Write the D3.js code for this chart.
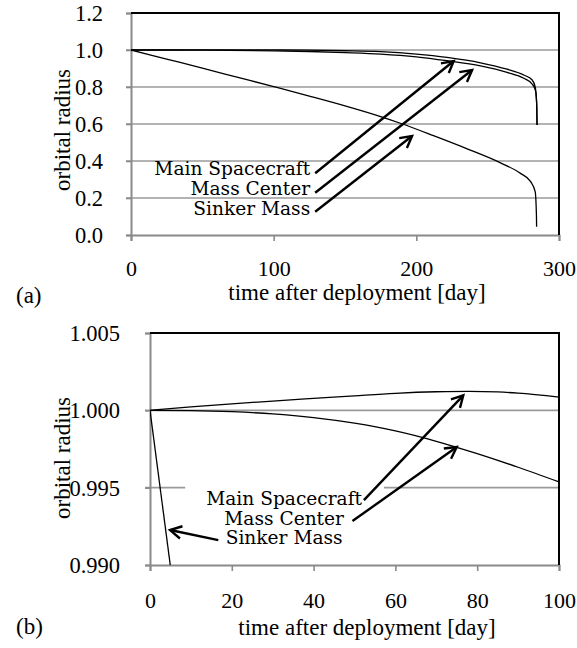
<!DOCTYPE html>
<html><head><meta charset="utf-8">
<script src="https://cdn.jsdelivr.net/npm/d3@7/dist/d3.min.js"></script>
<style>body{margin:0;background:#fff}svg{display:block}
.ser{font-family:"Liberation Serif","Times New Roman",serif}
.leg{font-family:"DejaVu Serif",serif}</style>
</head><body>
<svg id="c" width="577" height="648"></svg>
<script>
// ---------- Data: panel (a) ----------
const seriesNames = ["Main Spacecraft", "Mass Center", "Sinker Mass"];
const aXTicks = [0, 100, 200, 300];
const aYTicks = [0.0, 0.2, 0.4, 0.6, 0.8, 1.0, 1.2];
const aMain = [[0,1.0],[50,1.0009],[78,1.0012],[100,1.0009],[125,0.999],[150,0.996],[175,0.991],[200,0.978],[221.5,0.960],[245,0.931],[263.6,0.896],[275.3,0.865],[281.2,0.838],[283.3,0.80],[284.3,0.72],[284.6,0.595]];
const aCenter = [[0,1.0],[50,0.9992],[100,0.9954],[125,0.992],[150,0.986],[175,0.978],[200,0.963],[221.5,0.942],[245,0.914],[263.6,0.879],[275.3,0.847],[281.2,0.816],[283.5,0.78],[284.4,0.70],[284.6,0.595]];
const aSinker = [[0,1.0],[25,0.951],[50,0.902],[75,0.852],[100,0.802],[125,0.751],[150,0.698],[175,0.640],[188.8,0.604],[212,0.537],[235.6,0.466],[259,0.390],[273,0.333],[280,0.290],[283.3,0.234],[284.2,0.10],[284.3,0.045]];
// legend labels (a): [day, radius] of text anchor (right aligned)
const aLabelPos = [[125.6,0.324],[125.6,0.216],[125.6,0.108]];
// arrows (a): [startDay, startR, tipDay, tipR]
const aArrows = [[129.1,0.3335,226.2,0.9405],[129.1,0.2286,239.1,0.8919],[129.1,0.1259,197.0,0.5351]];

// ---------- Data: panel (b) ----------
const bXTicks = [0, 20, 40, 60, 80, 100];
const bYTicks = [0.990, 0.995, 1.000, 1.005];
const bMain = [[0,1.0],[10,1.00022],[20,1.00042],[30,1.00060],[40,1.00077],[50,1.00094],[60,1.00110],[70,1.00120],[78,1.00123],[85,1.00119],[90,1.00111],[100,1.00086]];
const bCenter = [[0,1.0],[10,0.99998],[20,0.99991],[30,0.99977],[40,0.99953],[50,0.99917],[60,0.99867],[70,0.99800],[80,0.99720],[90,0.99632],[100,0.99537]];
const bSinker = [[0,1.0],[5,0.9899]];
const bLabelPos = [[32.8,0.99387],[32.8,0.99258],[32.8,0.99135]];
const bArrows = [[52.3,0.99419,76.6,1.000968],[49.5,0.99284,75.0,0.99763],[16.7,0.99161,4.9,0.99226]];
const bBox = [8.6, 57.2, 0.99512, 0.99097];

const svg = d3.select("#c");

function arrow(g, x1, y1, x2, y2) {
  const ang = Math.atan2(y2 - y1, x2 - x1), L = 13, a = 0.5;
  g.append("line").attr("x1", x1).attr("y1", y1).attr("x2", x2).attr("y2", y2)
    .attr("stroke", "#000").attr("stroke-width", 2.4);
  const p1 = [x2 - L * Math.cos(ang - a), y2 - L * Math.sin(ang - a)];
  const p2 = [x2 - L * Math.cos(ang + a), y2 - L * Math.sin(ang + a)];
  g.append("path").attr("d", `M${p1}L${x2},${y2}L${p2}`).attr("fill", "none")
    .attr("stroke", "#000").attr("stroke-width", 2.4).attr("stroke-linejoin", "miter");
}

function panel(o) {
  const g = svg.append("g");
  const x = d3.scaleLinear().domain(o.xd).range([o.l, o.r]);
  const y = d3.scaleLinear().domain(o.yd).range([o.b, o.t]);
  const id = "clip" + o.name;
  g.append("clipPath").attr("id", id).append("rect")
    .attr("x", o.l).attr("y", o.t).attr("width", o.r - o.l + 4).attr("height", o.b - o.t);
  // gridlines
  g.selectAll(".grid").data(o.yTicks.filter(v => v !== o.yd[0] && v !== o.yd[1]))
    .enter().append("line").attr("x1", o.l - 5).attr("x2", o.r)
    .attr("y1", d => y(d)).attr("y2", d => y(d))
    .attr("stroke", "#9a9a9a").attr("stroke-width", 1.6);
  // y axis (left, gray)
  const ya = d3.axisLeft(y).tickValues(o.yTicks).tickSize(5).tickFormat(d3.format(o.yFmt));
  const yg = g.append("g").attr("transform", `translate(${o.l},0)`).call(ya)
    .attr("font-family", null).attr("font-size", null).attr("class", "ser");
  yg.select(".domain").attr("stroke", "#8a8a8a").attr("stroke-width", 2);
  yg.selectAll(".tick line").attr("stroke", "#8a8a8a").attr("stroke-width", 1.6);
  yg.selectAll(".tick text").style("font-size", "22.5px")
    .attr("fill", "#000").attr("x", -o.yLabGap).attr("dy", "0.33em");
  // x axis (bottom, gray)
  const xa = d3.axisBottom(x).tickValues(o.xTicks).tickSize(6).tickFormat(d3.format("d"));
  const xg = g.append("g").attr("transform", `translate(0,${o.b})`).call(xa)
    .attr("font-family", null).attr("font-size", null).attr("class", "ser");
  xg.select(".domain").attr("stroke", "#8a8a8a").attr("stroke-width", 2);
  xg.selectAll(".tick line").attr("stroke", "#8a8a8a").attr("stroke-width", 1.6);
  xg.selectAll(".tick text").style("font-size", "22px")
    .attr("fill", "#000").attr("y", o.xLabGap).attr("dy", 0);
  // top & right border (black)
  g.append("path").attr("d", `M${o.l},${o.t}H${o.r}V${o.b}`).attr("fill", "none")
    .attr("stroke", "#000").attr("stroke-width", 2);
  // series
  const line = d3.line().x(d => x(d[0])).y(d => y(d[1])).curve(d3.curveMonotoneX);
  const lg = g.append("g").attr("clip-path", `url(#${id})`);
  o.series.forEach(s => lg.append("path").attr("d", line(s)).attr("fill", "none")
    .attr("stroke", "#000").attr("stroke-width", 1.3));
  // label box
  if (o.box) {
    g.append("rect").attr("x", x(o.box[0])).attr("y", y(o.box[2]))
      .attr("width", x(o.box[1]) - x(o.box[0])).attr("height", y(o.box[3]) - y(o.box[2]))
      .attr("fill", "#fff");
  }
  // labels
  seriesNames.forEach((n, i) => {
    g.append("text").attr("class", "leg").attr("x", x(o.labelPos[i][0])).attr("y", y(o.labelPos[i][1]))
      .attr("text-anchor", o.anchor).style("font-size", "18.6px")
      .attr("fill", "#000").text(n);
  });
  o.arrows.forEach(a => arrow(g, x(a[0]), y(a[1]), x(a[2]), y(a[3])));
  // axis titles
  g.append("text").attr("class", "ser").attr("transform", `translate(${o.ytx},${o.yty}) rotate(-90)`)
    .attr("text-anchor", "middle").attr("dy", "0.33em").style("font-size", "23px").text("orbital radius");
  g.append("text").attr("class", "ser").attr("x", o.xtx).attr("y", o.xty).attr("text-anchor", "middle")
    .style("font-size", "23px").text("time after deployment [day]");
  g.append("text").attr("class", "ser").attr("x", 16).attr("y", o.tagY)
    .style("font-size", "23px").text(o.tag);
}

panel({name: "a", tag: "(a)", tagY: 303, xd: [0, 300], yd: [0, 1.2], l: 131, r: 559, t: 13, b: 235,
  xTicks: aXTicks, yTicks: aYTicks, yFmt: ".1f", yLabGap: 28, xLabGap: 41,
  series: [aMain, aCenter, aSinker], labelPos: aLabelPos, arrows: aArrows, anchor: "end",
  ytx: 62, yty: 130, xtx: 357, xty: 300});
panel({name: "b", tag: "(b)", tagY: 634, xd: [0, 100], yd: [0.990, 1.005], l: 150, r: 559, t: 333, b: 565,
  xTicks: bXTicks, yTicks: bYTicks, yFmt: ".3f", yLabGap: 30, xLabGap: 43,
  series: [bMain, bCenter, bSinker], labelPos: bLabelPos, arrows: bArrows, anchor: "middle",
  box: bBox, ytx: 62, yty: 458, xtx: 367, xty: 635});
</script>
</body></html>
